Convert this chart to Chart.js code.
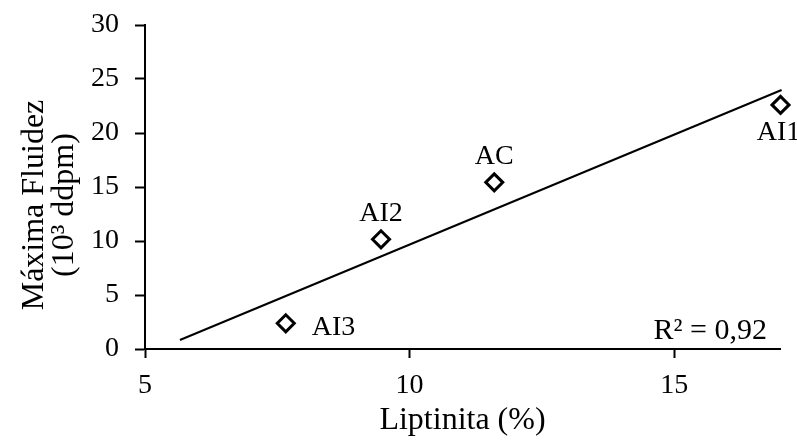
<!DOCTYPE html>
<html>
<head>
<meta charset="utf-8">
<script src="https://cdn.jsdelivr.net/npm/chart.js@4/dist/chart.umd.min.js"></script>
<style>
  html, body { margin: 0; padding: 0; background: #fff; }
  #wrap { width: 797px; height: 441px; }
</style>
</head>
<body>
<div id="wrap"><canvas id="chart" width="797" height="441"></canvas></div>
<script>
// data
const samples = ['AI3', 'AI2', 'AC', 'AI1'];
const liptinita = [7.66, 9.46, 11.6, 17.01];
const fluidez = [2.38, 10.16, 15.43, 22.6];
const trendX = [5.66, 17.03];
const trendY = [0.83, 23.98];
const xTicks = [5, 10, 15];
const yTicks = [0, 5, 10, 15, 20, 25, 30];
const r2Text = 'R² = 0,92';
const yTitle = ['Máxima Fluidez', '(10³ ddpm)'];
const xTitle = 'Liptinita (%)';

// where each sample label sits relative to its marker
const labelPos = {
  AI3: { dx: 26, dy: 12, align: 'left' },
  AI2: { dx: 0, dy: -18, align: 'center' },
  AC: { dx: 0, dy: -18, align: 'center' },
  AI1: { dx: -2, dy: 35, align: 'center' }
};

const FONT = 'Liberation Serif';
Chart.defaults.font.family = FONT;
Chart.defaults.color = '#000';

const annotations = {
  id: 'annotations',
  afterDatasetsDraw(chart) {
    const ctx = chart.ctx;
    const xs = chart.scales.x, ys = chart.scales.y;
    ctx.save();
    ctx.fillStyle = '#000';
    ctx.textBaseline = 'alphabetic';
    ctx.font = '28px "' + FONT + '"';
    samples.forEach((name, i) => {
      const p = labelPos[name];
      ctx.textAlign = p.align;
      ctx.fillText(name, xs.getPixelForValue(liptinita[i]) + p.dx, ys.getPixelForValue(fluidez[i]) + p.dy);
    });
    const area = chart.chartArea;
    ctx.font = '30px "' + FONT + '"';
    ctx.textAlign = 'right';
    ctx.fillText(r2Text, area.right - 13, area.bottom - 10);

    // y title, two lines, rotated
    ctx.font = '32px "' + FONT + '"';
    ctx.textAlign = 'center';
    ctx.translate(0, 205);
    ctx.rotate(-Math.PI / 2);
    ctx.fillText(yTitle[0], 0, 43);
    ctx.fillText(yTitle[1], 0, 73);
    ctx.restore();
  }
};

new Chart(document.getElementById('chart'), {
  type: 'scatter',
  data: {
    datasets: [
      {
        label: 'Amostras',
        data: liptinita.map((x, i) => ({ x: x, y: fluidez[i] })),
        pointStyle: 'rectRot',
        pointRadius: 8.5,
        pointBorderWidth: 3,
        borderColor: '#000',
        backgroundColor: '#fff',
        showLine: false,
        clip: false
      },
      {
        label: 'Tendência',
        data: trendX.map((x, i) => ({ x: x, y: trendY[i] })),
        showLine: true,
        borderColor: '#000',
        borderWidth: 2,
        pointRadius: 0,
        clip: false
      }
    ]
  },
  options: {
    responsive: false,
    animation: false,
    events: [],
    layout: { padding: { top: 25, right: 17, left: 0, bottom: 0 } },
    plugins: {
      legend: { display: false },
      tooltip: { enabled: false }
    },
    scales: {
      x: {
        type: 'linear',
        min: 5,
        max: 17,
        afterBuildTicks: (scale) => { scale.ticks = xTicks.map(v => ({ value: v })); },
        afterFit: (scale) => {
          scale.height = 92;
          scale.paddingLeft = 0;
          scale.paddingRight = 0;
        },
        border: { display: true, color: '#000', width: 2 },
        grid: { drawOnChartArea: false, drawTicks: true, tickLength: 9, tickColor: '#000', tickWidth: 2 },
        ticks: { font: { size: 28 }, padding: 11, color: '#000' },
        title: {
          display: true,
          text: xTitle,
          font: { size: 32, lineHeight: 1 },
          padding: { top: 0, bottom: 4 },
          color: '#000'
        }
      },
      y: {
        type: 'linear',
        min: 0,
        max: 30,
        afterBuildTicks: (scale) => { scale.ticks = yTicks.map(v => ({ value: v })); },
        afterFit: (scale) => {
          scale.width = 145;
          scale.paddingTop = 0;
          scale.paddingBottom = 0;
        },
        border: { display: true, color: '#000', width: 2 },
        grid: { drawOnChartArea: false, drawTicks: true, tickLength: 10, tickColor: '#000', tickWidth: 2 },
        ticks: { font: { size: 28 }, padding: 16, color: '#000' }
      }
    }
  },
  plugins: [annotations]
});
</script>
</body>
</html>
